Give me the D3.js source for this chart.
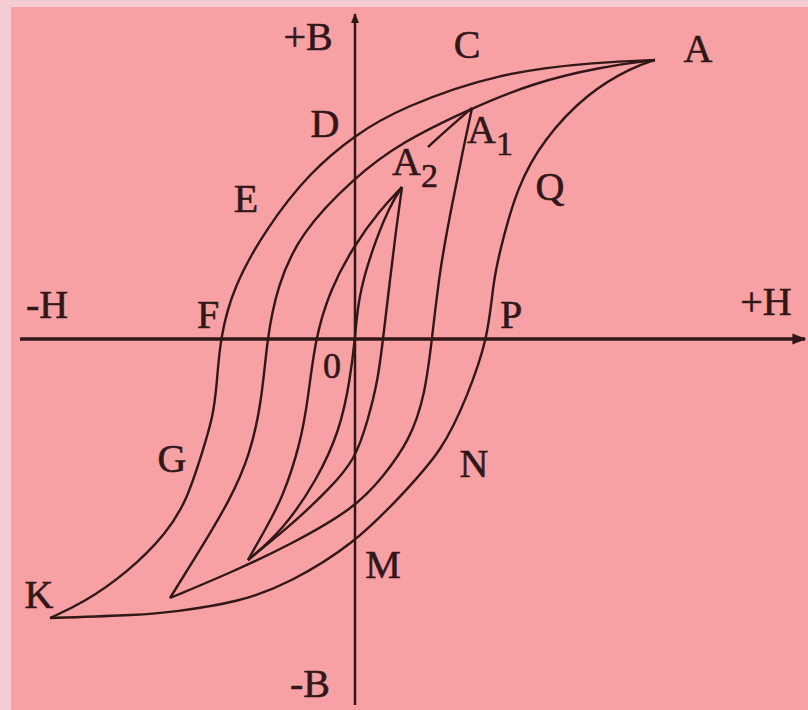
<!DOCTYPE html>
<html>
<head>
<meta charset="utf-8">
<script src="https://cdn.jsdelivr.net/npm/d3@7"></script>
<style>
  html, body { margin: 0; padding: 0; background: #f3cdd2; }
  svg { display: block; }
</style>
</head>
<body>
<svg id="chart" width="808" height="710"></svg>
<script>
// axis extents (H, B units, origin at the cross)
const hExtent = [-3.35, 4.50];
const bExtent = [-3.66, 3.25];

// curves, [H, B]
const outerUpper = [[3.00,2.79],[2.45,2.77],[1.45,2.67],[0.45,2.31],[0,2.04],[-0.45,1.67],[-0.88,1.12],
  [-1.22,0.52],[-1.35,0],[-1.38,-0.44],[-1.42,-0.78],[-1.52,-1.11],[-1.68,-1.61],[-1.88,-1.94],
  [-2.28,-2.34],[-2.72,-2.64],[-3.05,-2.79]];
const outerLower = [[-3.05,-2.79],[-2.15,-2.76],[-1.82,-2.73],[-1.15,-2.63],[-0.65,-2.44],[0,-2.04],
  [0.45,-1.58],[0.88,-1.11],[1.12,-0.58],[1.33,0],[1.38,0.56],[1.45,0.89],[1.62,1.52],[1.88,1.99],
  [2.32,2.46],[2.78,2.72],[3.00,2.79]];
const a1Upper = [[3.00,2.79],[2.45,2.72],[1.78,2.56],[1.17,2.31],[0.45,1.96],[0,1.62],[-0.55,1.06],
  [-0.78,0.52],[-0.88,0],[-0.93,-0.61],[-1.05,-1.16],[-1.25,-1.61],[-1.55,-2.11],[-1.85,-2.59]];
const a1Lower = [[-1.85,-2.59],[-1.25,-2.34],[-0.65,-2.06],[0,-1.69],[0.28,-1.38],[0.55,-1.01],
  [0.70,-0.56],[0.77,0],[0.85,0.72],[0.98,1.39],[1.08,1.89],[1.17,2.31]];
const a2Upper = [[0.47,1.52],[0.25,1.29],[-0.02,0.92],[-0.25,0.49],[-0.40,0],[-0.47,-0.61],
  [-0.55,-1.06],[-0.72,-1.58],[-0.90,-1.91],[-1.07,-2.21]];
const a2Lower = [[-1.07,-2.21],[-0.58,-1.81],[-0.25,-1.49],[0,-1.21],[0.13,-0.81],[0.23,-0.41],
  [0.28,0],[0.35,0.59],[0.41,1.09],[0.47,1.52]];
const initialLower = [[-1.07,-2.21],[-0.72,-1.91],[-0.38,-1.41],[-0.15,-0.91],[-0.05,-0.41],[0,0],
  [0.03,0.39],[0.15,0.84],[0.35,1.34],[0.47,1.52]];
const initialUpper = [[0.73,1.92],[0.95,2.12],[1.17,2.31]];

const curves = [outerUpper, outerLower, a1Upper, a1Lower, a2Upper, a2Lower, initialLower, initialUpper];

// point labels: text, H, B (baseline position)
const labels = [
  {t: "+B", h: -0.47, b: 2.89}, {t: "C", h: 1.12, b: 2.81}, {t: "A", h: 3.43, b: 2.77},
  {t: "D", h: -0.30, b: 2.02}, {t: "E", h: -1.09, b: 1.27}, {t: "Q", h: 1.95, b: 1.39},
  {t: "-H", h: -3.08, b: 0.21}, {t: "F", h: -1.47, b: 0.11}, {t: "P", h: 1.56, b: 0.11},
  {t: "+H", h: 4.11, b: 0.24}, {t: "0", h: -0.23, b: -0.39}, {t: "G", h: -1.83, b: -1.33},
  {t: "N", h: 1.19, b: -1.38}, {t: "K", h: -3.16, b: -2.69}, {t: "M", h: 0.28, b: -2.39},
  {t: "-B", h: -0.45, b: -3.58}
];
const subLabels = [
  {t: "A", s: "1", h: 1.35, b: 1.96},
  {t: "A", s: "2", h: 0.60, b: 1.64}
];

const svg = d3.select("#chart");
const W = +svg.attr("width"), H = +svg.attr("height");
const ink = "#321719";

svg.append("rect").attr("x", 11).attr("y", 7).attr("width", W - 11).attr("height", H - 7)
  .attr("fill", "#f8a1a5");

const x = d3.scaleLinear().domain(hExtent).range([20, 805]);
const y = d3.scaleLinear().domain(bExtent).range([705, 14]);

const defs = svg.append("defs");
defs.append("marker").attr("id", "arrow")
  .attr("viewBox", "0 0 10 10").attr("refX", 9).attr("refY", 5)
  .attr("markerWidth", 4).attr("markerHeight", 4).attr("orient", "auto")
  .append("path").attr("d", "M0,1L10,5L0,9z").attr("fill", ink);

// axes
svg.append("line")
  .attr("x1", x(hExtent[0])).attr("x2", x(hExtent[1]))
  .attr("y1", y(0)).attr("y2", y(0))
  .attr("stroke", ink).attr("stroke-width", 3.5).attr("marker-end", "url(#arrow)");
svg.append("line")
  .attr("x1", x(0)).attr("x2", x(0))
  .attr("y1", y(bExtent[0])).attr("y2", y(bExtent[1]))
  .attr("stroke", ink).attr("stroke-width", 2.5).attr("marker-end", "url(#arrow)");

// basis spline smooths out reading noise
const line = d3.line()
  .x(d => x(d[0]))
  .y(d => y(d[1]))
  .curve(d3.curveBasis);

svg.append("g").selectAll("path")
  .data(curves)
  .join("path")
  .attr("d", line)
  .attr("fill", "none")
  .attr("stroke", ink)
  .attr("stroke-width", 2.4)
  .attr("stroke-linejoin", "round");

const font = "'Liberation Serif', 'DejaVu Serif', serif";

svg.append("g").selectAll("text")
  .data(labels)
  .join("text")
  .attr("x", d => x(d.h))
  .attr("y", d => y(d.b))
  .attr("text-anchor", "middle")
  .attr("font-family", font)
  .attr("font-size", d => d.t === "0" ? 36 : 40)
  .attr("fill", ink)
  .attr("stroke", ink).attr("stroke-width", 0.6)
  .text(d => d.t);

const sub = svg.append("g").selectAll("text")
  .data(subLabels)
  .join("text")
  .attr("x", d => x(d.h))
  .attr("y", d => y(d.b))
  .attr("text-anchor", "middle")
  .attr("font-family", font)
  .attr("font-size", 40)
  .attr("fill", ink)
  .attr("stroke", ink).attr("stroke-width", 0.6);
sub.append("tspan").text(d => d.t);
sub.append("tspan").attr("dy", 12).attr("font-size", 34).text(d => d.s);
</script>
</body>
</html>
